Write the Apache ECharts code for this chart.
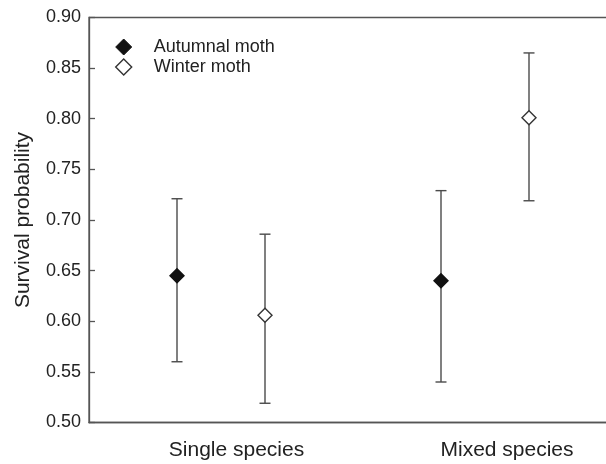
<!DOCTYPE html>
<html><head><meta charset="utf-8">
<script src="https://cdn.jsdelivr.net/npm/echarts@6/dist/echarts.min.js"></script>
<style>html,body{margin:0;padding:0;background:#fff}#c{width:606px;height:464px}</style>
</head><body><div id="c"></div>
<script>
const categories = ['Single species', 'Mixed species'];
const autumnalMean = [0.645, 0.640];
const autumnalLow = [0.560, 0.540];
const autumnalHigh = [0.721, 0.729];
const winterMean = [0.606, 0.801];
const winterLow = [0.519, 0.719];
const winterHigh = [0.686, 0.865];
const yTicks = [0.50, 0.55, 0.60, 0.65, 0.70, 0.75, 0.80, 0.85, 0.90];
const labelShift = [31, 44];

function makeRender(means, lows, highs, offsetFrac, filled) {
  return function (params, api) {
    const i = api.value(0);
    const band = api.size([1, 0])[0];
    const dx = band * offsetFrac;
    const pm = api.coord([i, means[i]]);
    const pl = api.coord([i, lows[i]]);
    const ph = api.coord([i, highs[i]]);
    const x = pm[0] + dx;
    const cap = 5.5, d = 7;
    const ls = { stroke: '#4a4a4a', lineWidth: 1.4 };
    return {
      type: 'group',
      children: [
        { type: 'line', shape: { x1: x, y1: pl[1], x2: x, y2: ph[1] }, style: ls },
        { type: 'line', shape: { x1: x - cap, y1: pl[1], x2: x + cap, y2: pl[1] }, style: ls },
        { type: 'line', shape: { x1: x - cap, y1: ph[1], x2: x + cap, y2: ph[1] }, style: ls },
        { type: 'polygon', shape: { points: [[x, pm[1] - d], [x + d, pm[1]], [x, pm[1] + d], [x - d, pm[1]]] },
          style: { fill: filled ? '#111' : '#fff', stroke: filled ? '#111' : '#333', lineWidth: 1.4 }, z2: 10 }
      ]
    };
  };
}

const FONT = 'Liberation Sans, Arial, sans-serif';
const chart = echarts.init(document.getElementById('c'));
chart.setOption({
  animation: false,
  backgroundColor: '#fff',
  textStyle: { fontFamily: FONT },
  grid: { left: 89, right: -11, top: 17.5, bottom: 41.5, outerBoundsMode: 'none', containLabel: false,
          show: true, borderColor: '#555', borderWidth: 1.3, backgroundColor: 'transparent' },
  legend: {
    orient: 'vertical', left: 110, top: 33, itemGap: 2, itemWidth: 16, itemHeight: 16,
    textStyle: { fontSize: 18, lineHeight: 18, color: '#222', fontFamily: FONT, padding: [0, 0, 0, 17] },
    data: [
      { name: 'Autumnal moth', icon: 'diamond', itemStyle: { color: '#111', borderColor: '#111', borderWidth: 1 } },
      { name: 'Winter moth', icon: 'diamond', itemStyle: { color: '#fff', borderColor: '#333', borderWidth: 1.4 } }
    ]
  },
  xAxis: {
    type: 'category',
    data: categories.map((c, i) => ({ value: c, textStyle: { padding: [0, 0, 0, labelShift[i]] } })),
    axisLine: { lineStyle: { color: '#555', width: 1.3 } },
    axisTick: { show: false },
    axisLabel: { fontSize: 21, color: '#222', margin: 17 }
  },
  yAxis: {
    type: 'value', min: 0.50, max: 0.90, interval: 0.05,
    name: 'Survival probability', nameLocation: 'middle', nameGap: 55,
    nameTextStyle: { fontSize: 21, color: '#222' },
    axisLine: { show: true, lineStyle: { color: '#555', width: 1.3 } },
    axisTick: { show: true, inside: true, length: 6, lineStyle: { color: '#555', width: 1.3 } },
    axisLabel: { fontSize: 18, color: '#222', margin: 8, formatter: v => v.toFixed(2) },
    splitLine: { show: false }
  },
  series: [
    { name: 'Autumnal moth', type: 'custom', itemStyle: { color: '#111' },
      renderItem: makeRender(autumnalMean, autumnalLow, autumnalHigh, -1/6, true),
      data: categories.map((c, i) => [i, autumnalMean[i]]) },
    { name: 'Winter moth', type: 'custom', itemStyle: { color: '#fff', borderColor: '#333' },
      renderItem: makeRender(winterMean, winterLow, winterHigh, 1/6, false),
      data: categories.map((c, i) => [i, winterMean[i]]) }
  ]
});
</script></body></html>
